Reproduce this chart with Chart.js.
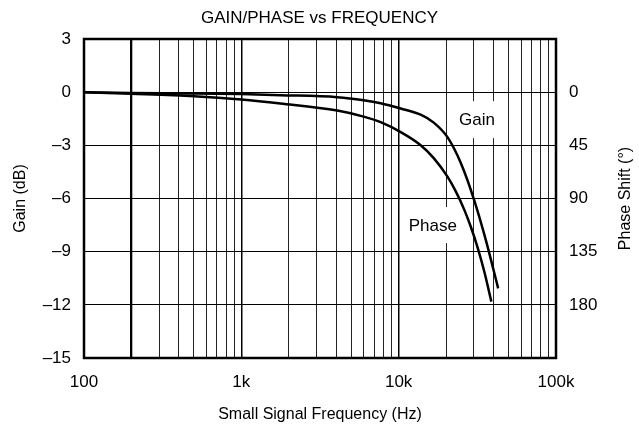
<!DOCTYPE html>
<html><head><meta charset="utf-8">
<script src="https://cdn.jsdelivr.net/npm/chart.js@4/dist/chart.umd.min.js"></script>
<style>html,body{margin:0;padding:0;background:#fff}#wrap{width:639px;height:426px}</style>
</head><body><div id="wrap"><canvas id="c" width="639" height="426"></canvas></div>
<script>
// ---- data ----
const gainFreq = [100, 200, 500, 1000, 1772, 4070, 5985, 7682, 10300, 13806, 16710, 20430, 24830, 30190, 35820, 42900];
const gainDb   = [0, -0.04, -0.07, -0.11, -0.17, -0.28, -0.45, -0.62, -0.92, -1.27, -1.72, -2.54, -4.0, -6.09, -8.35, -11.07];
const phaseFreq = [100, 200, 500, 1000, 1772, 4070, 5985, 7682, 10300, 13806, 16710, 20430, 23070, 26060, 28740, 31720, 34940, 38830];
const phaseDeg  = [0, 1.3, 3.4, 6.2, 9.6, 15.6, 20.7, 25.4, 33.8, 44.9, 55.8, 71.5, 84.0, 99.2, 113.9, 131.3, 151.4, 177.3];
const xGridValues = [100,200,300,400,500,600,700,800,900,1000,2000,3000,4000,5000,6000,7000,8000,9000,10000,20000,30000,40000,50000,60000,70000,80000,90000,100000];
const xLabelValues = [100, 1000, 10000, 100000];
const xLabelTexts = ['100', '1k', '10k', '100k'];
const gainTicks = [3, 0, -3, -6, -9, -12, -15];
const phaseTicks = [0, 45, 90, 135, 180];
const curveLabels = ['Gain', 'Phase'];

// ---- label placement (data coordinates) ----
const labelSpecs = [
  {text: curveLabels[0], freq: 31500, gain: -1.55, padX: 4, h: 37},
  {text: curveLabels[1], freq: 16500, gain: -7.5, padX: 6, h: 36}
];

const FONT = '"Liberation Sans", Arial, Helvetica, sans-serif';
Chart.defaults.font.family = FONT;
Chart.defaults.color = '#000';

const labelPlugin = {
  id: 'curveLabels',
  beforeDatasetsDraw(chart) {
    const {ctx, scales: {x, y}} = chart;
    ctx.save();
    ctx.font = '17px ' + FONT;
    ctx.textAlign = 'center';
    ctx.textBaseline = 'middle';
    labelSpecs.forEach(s => {
      const px = x.getPixelForValue(s.freq), py = y.getPixelForValue(s.gain);
      const w = ctx.measureText(s.text).width + 2 * s.padX;
      ctx.fillStyle = '#fff';
      ctx.fillRect(px - w / 2, py - s.h / 2, w, s.h);
      ctx.fillStyle = '#000';
      ctx.fillText(s.text, px, py + 1);
    });
    ctx.restore();
  }
};
const framePlugin = {
  id: 'frame',
  afterDatasetsDraw(chart) {
    const {ctx, chartArea: a} = chart;
    ctx.save();
    ctx.strokeStyle = '#000';
    ctx.lineWidth = 2.5;
    ctx.strokeRect(a.left, a.top, a.right - a.left, a.bottom - a.top);
    // right axis title, reading bottom-to-top like the left one
    const y2 = chart.scales.y2;
    ctx.font = '16px ' + FONT;
    ctx.fillStyle = '#000';
    ctx.textAlign = 'center';
    ctx.textBaseline = 'middle';
    ctx.translate(y2.right - 13, (a.top + a.bottom) / 2);
    ctx.rotate(-Math.PI / 2);
    ctx.fillText('Phase Shift (\u00B0)', 0, 0);
    ctx.restore();
  }
};

const fmtDash = v => (v < 0 ? '\u2013' + Math.abs(v) : String(v));

new Chart(document.getElementById('c'), {
  type: 'line',
  data: {
    datasets: [
      {label: 'Gain', data: gainFreq.map((f, i) => ({x: f, y: gainDb[i]})), yAxisID: 'y'},
      {label: 'Phase', data: phaseFreq.map((f, i) => ({x: f, y: phaseDeg[i]})), yAxisID: 'y2'}
    ]
  },
  options: {
    responsive: false,
    animation: false,
    devicePixelRatio: 1,
    layout: {padding: 0},
    elements: {
      line: {borderColor: '#000', borderWidth: 2.5, cubicInterpolationMode: 'monotone', fill: false},
      point: {radius: 0}
    },
    plugins: {
      legend: {display: false},
      tooltip: {enabled: false},
      title: {display: true, text: 'GAIN/PHASE vs FREQUENCY', color: '#000',
        font: {size: 17, weight: 'normal'}, padding: {top: 8, bottom: 10.6}}
    },
    scales: {
      x: {
        type: 'logarithmic', min: 100, max: 100000,
        afterBuildTicks: s => { s.ticks = xGridValues.map(v => ({value: v})); },
        afterFit: s => { s.height = 68; },
        ticks: {autoSkip: false, maxRotation: 0, padding: 14, font: {size: 17},
          callback: v => { const i = xLabelValues.indexOf(v); return i >= 0 ? xLabelTexts[i] : ''; }},
        grid: {drawTicks: false,
          color: c => (c.tick && (c.tick.value === 200 || xLabelValues.includes(c.tick.value)) ? '#000' : '#222'),
          lineWidth: c => (c.tick && c.tick.value === 200 ? 2.3 : (xLabelValues.includes(c.tick && c.tick.value) ? 1.5 : 1))},
        border: {display: false},
        title: {display: true, text: 'Small Signal Frequency (Hz)', font: {size: 16}, padding: {top: 0, bottom: 2}}
      },
      y: {
        type: 'linear', position: 'left', min: -15, max: 3,
        afterBuildTicks: s => { s.ticks = gainTicks.map(v => ({value: v})); },
        afterFit: s => { s.width = 84; },
        ticks: {padding: 13, font: {size: 17}, callback: v => fmtDash(v)},
        grid: {drawTicks: false, color: '#000', lineWidth: 1},
        border: {display: false},
        title: {display: true, text: 'Gain (dB)', font: {size: 16}, padding: {top: 11}}
      },
      y2: {
        type: 'linear', position: 'right', min: -45, max: 225, reverse: true,
        afterBuildTicks: s => { s.ticks = phaseTicks.map(v => ({value: v})); },
        afterFit: s => { s.width = 83; },
        ticks: {padding: 13, font: {size: 17}, callback: v => String(v)},
        grid: {drawTicks: false, drawOnChartArea: false},
        border: {display: false},
        title: {display: false}
      }
    }
  },
  plugins: [labelPlugin, framePlugin]
});
</script>
</body></html>
